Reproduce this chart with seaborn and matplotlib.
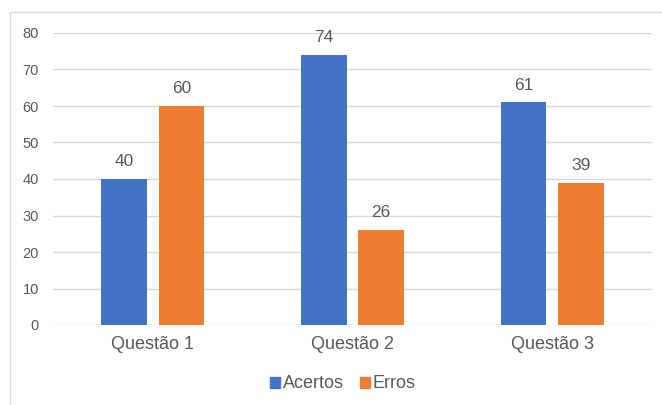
import matplotlib
matplotlib.use("Agg")
import matplotlib.pyplot as plt
import seaborn as sns
import pandas as pd
from matplotlib.patches import Rectangle

categories = ["Questão 1", "Questão 2", "Questão 3"]
acertos = [40, 74, 61]
erros = [60, 26, 39]
series_names = ["Acertos", "Erros"]
yticks = [0, 10, 20, 30, 40, 50, 60, 70, 80]

df = pd.DataFrame({
    "cat": categories * 2,
    "val": acertos + erros,
    "serie": [series_names[0]] * 3 + [series_names[1]] * 3,
})

sns.set_theme(style="white")
plt.rcParams["font.family"] = ["Liberation Sans", "DejaVu Sans"]
txt = "#595959"

fig = plt.figure(figsize=(6.62, 4.05), dpi=100)
ax = fig.add_axes([53/662, 80/405, 599/662, 292/405])

sns.barplot(data=df, x="cat", y="val", hue="serie",
            palette=["#4472C4", "#ED7D31"], width=0.575, gap=0.2,
            ax=ax, legend=False, saturation=1, linewidth=0)

for cont in ax.containers:
    ax.bar_label(cont, fmt="%d", padding=7, fontsize=12.5, color=txt)

ax.set_ylim(0, 80)
ax.set_yticks(yticks)
ax.set_xlim(-0.5, 2.5)
ax.yaxis.grid(True, color="#D9D9D9", linewidth=1)
ax.set_axisbelow(True)
for s in ax.spines.values():
    s.set_visible(False)
ax.set_xlabel("")
ax.set_ylabel("")
ax.tick_params(axis="y", labelsize=10.5, colors=txt, length=0, pad=10)
ax.tick_params(axis="x", labelsize=13, colors=txt, length=0, pad=8)

handles = [Rectangle((0, 0), 1, 1, color=c) for c in ["#4472C4", "#ED7D31"]]
fig.legend(handles, series_names, loc="center", bbox_to_anchor=(343/662, 21/405),
           ncol=2, frameon=False, fontsize=13, labelcolor=txt,
           handlelength=0.55, handleheight=0.55, handletextpad=0.15, columnspacing=0.9)

fig.patches.append(Rectangle((10/662, -0.01), 0.99, (405-12)/405 + 0.01,
                             transform=fig.transFigure, fill=False,
                             edgecolor="#D9D9D9", linewidth=1))

fig.savefig("out.png", dpi=100)
